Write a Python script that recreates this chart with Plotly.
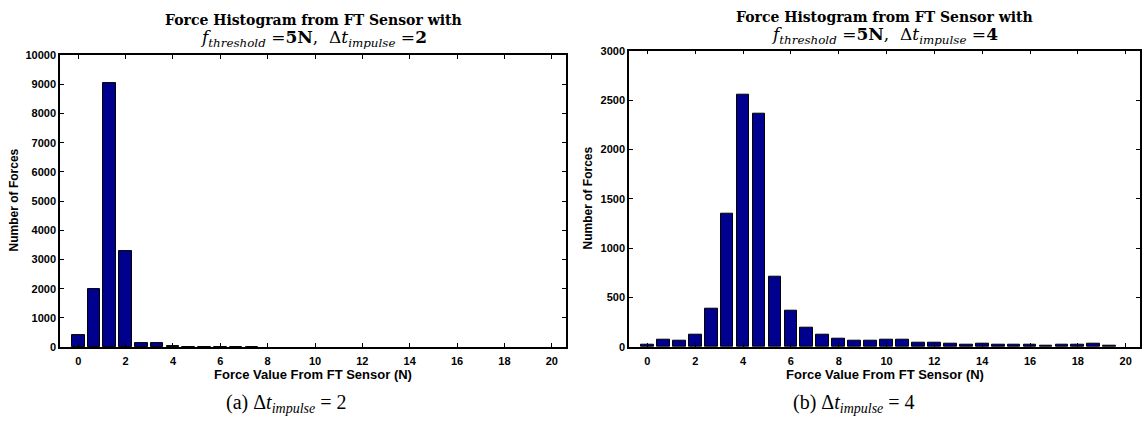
import plotly.graph_objects as go

# Bin centers (N) — 31 bins from 0 to 20
bin_width = 20 / 30
centers = [round(k * bin_width, 4) for k in range(31)]

# Counts, dt_impulse = 2
counts_a = [400, 1980, 9030, 3290, 140, 135, 45, 20, 20, 20, 15, 12,
            0, 0, 0, 0, 0, 0, 0, 0, 0, 0, 0, 0, 0, 0, 0, 0, 0, 0, 0]
# Counts, dt_impulse = 4
counts_b = [25, 70, 62, 128, 390, 1350, 2555, 2365, 715, 365, 195, 125, 82, 58, 65, 78,
            68, 43, 46, 30, 26, 36, 23, 20, 20, 16, 26, 20, 36, 13, 0]

x_ticks = list(range(0, 21, 2))
y_ticks_a = list(range(0, 10001, 1000))
y_ticks_b = list(range(0, 3001, 500))

W, H = 1146, 430
def px(x): return x / W
def py(y): return 1 - y / H

BAR = "#00008F"
fig = go.Figure()
for cnts, xa, ya in [(counts_a, "x", "y"), (counts_b, "x2", "y2")]:
    fig.add_trace(go.Bar(x=centers, y=cnts, width=bin_width * 0.8,
                         marker=dict(color=BAR, line=dict(color="black", width=[1 if c > 0 else 0 for c in cnts])),
                         xaxis=xa, yaxis=ya, showlegend=False, hoverinfo="skip"))

tickfont = dict(family="Liberation Sans, Arial, sans-serif", size=11, color="black", weight="bold")
axis_common = dict(showgrid=False, zeroline=False, showline=True, linecolor="black", linewidth=1.5,
                   mirror="ticks", ticks="inside", ticklen=4, tickcolor="black", tickwidth=1,
                   tickfont=tickfont)

fig.update_layout(
    width=W, height=H, margin=dict(l=0, r=0, t=0, b=0),
    plot_bgcolor="white", paper_bgcolor="white", bargap=0,
    xaxis=dict(domain=[px(60), px(566)], range=[-0.77, 20.6], tickvals=x_ticks, anchor="y",
               ticklabelstandoff=3, **axis_common),
    yaxis=dict(domain=[py(351), py(50.5)], range=[0, 10000], tickvals=y_ticks_a,
               ticktext=[str(v) for v in y_ticks_a], anchor="x", **axis_common),
    xaxis2=dict(domain=[px(629), px(1140)], range=[-0.77, 20.6], tickvals=x_ticks, anchor="y2",
                ticklabelstandoff=3, **axis_common),
    yaxis2=dict(domain=[py(350.7), py(46)], range=[0, 3000], tickvals=y_ticks_b,
                ticktext=[str(v) for v in y_ticks_b], anchor="x2", **axis_common),
)

serif = "DejaVu Serif, Liberation Serif, serif"
sans = "Liberation Sans, Arial, sans-serif"
annots = []
for cx, dt, top in [(313, 2, 14), (884.5, 4, 11)]:
    annots.append(dict(x=px(cx), y=py(top), text="<b>Force Histogram from FT Sensor with</b>",
                       font=dict(family=serif, size=14, color="black")))
    annots.append(dict(x=px(cx), y=py(top + 19),
                       text=f"<i>f</i><sub><i>threshold</i></sub>&nbsp;=<b>5N</b>,&nbsp;&nbsp;Δ<i>t</i><sub><i>impulse</i></sub>&nbsp;=<b>{dt}</b>",
                       font=dict(family=serif, size=17, color="black")))
    annots.append(dict(x=px(cx), y=py(379.5), text="<b>Force Value From FT Sensor (N)</b>",
                       font=dict(family=sans, size=13, color="black")))
annots.append(dict(x=px(14), y=py(200), text="<b>Number of Forces</b>", textangle=-90,
                   font=dict(family=sans, size=12, color="black")))
annots.append(dict(x=px(588), y=py(198), text="<b>Number of Forces</b>", textangle=-90,
                   font=dict(family=sans, size=12, color="black")))
annots.append(dict(x=px(286), y=py(409), text="(a) Δ<i>t</i><sub><i>impulse</i></sub> = 2",
                   font=dict(family="Liberation Serif, serif", size=20, color="black")))
annots.append(dict(x=px(854), y=py(409), text="(b) Δ<i>t</i><sub><i>impulse</i></sub> = 4",
                   font=dict(family="Liberation Serif, serif", size=20, color="black")))
for a in annots:
    a.update(xref="paper", yref="paper", showarrow=False, xanchor="center", yanchor="middle")
fig.update_layout(annotations=annots)

fig.write_html("out.html", config={"displayModeBar": False},
               post_script="document.body.style.margin='0';")
